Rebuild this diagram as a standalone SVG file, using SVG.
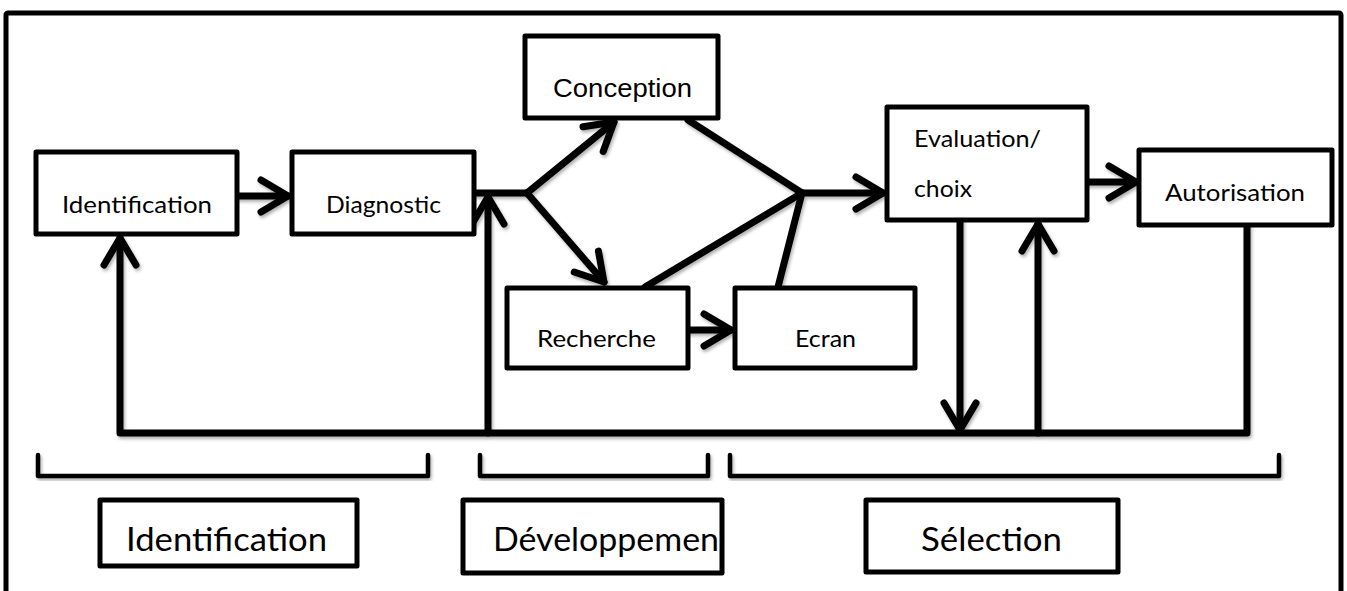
<svg xmlns="http://www.w3.org/2000/svg" width="1347" height="591" viewBox="0 0 1347 591">
  <style>
    .box { fill: #fff; stroke: #000; stroke-width: 5; stroke-linejoin: round; }
    .wire { fill: none; stroke: #000; stroke-width: 7; stroke-linecap: round; stroke-linejoin: round; }
    .brace { fill: none; stroke: #000; stroke-width: 4.5; stroke-linecap: round; stroke-linejoin: round; }
    .lbl { font-family: Lato, "Open Sans", sans-serif; font-size: 24px; fill: #000; }
    .big { font-family: Lato, "Open Sans", sans-serif; font-size: 33px; fill: #000; }
    .arial { font-family: "Liberation Sans", Arial, sans-serif; font-size: 25px; fill: #000; }
    .shade { filter: url(#shadow); }
  </style>
  <defs>
    <filter id="shadow" x="-10%" y="-10%" width="120%" height="130%">
      <feDropShadow dx="1.5" dy="2.5" stdDeviation="1.5" flood-color="#000" flood-opacity="0.3"/>
    </filter>
    <marker id="head" markerUnits="userSpaceOnUse" viewBox="-34 -22 40 44" markerWidth="40" markerHeight="44" refX="0" refY="0" orient="auto" overflow="visible">
      <path d="M -27 -16 L 0 0 L -27 16" fill="none" stroke="#000" stroke-width="7" stroke-linecap="round" stroke-linejoin="round"/>
    </marker>
  </defs>

  <rect width="1347" height="591" fill="#fff"/>

  <!-- outer frame -->
  <rect x="6" y="13" width="1335" height="620" fill="none" stroke="#000" stroke-width="5" rx="2"/>

  <!-- connectors -->
  <g id="connectors" class="shade">
    <line class="wire" x1="238" y1="196" x2="288" y2="196" marker-end="url(#head)"/>
    <polyline class="wire" points="474,193 527,193"/>
    <line class="wire" x1="527" y1="193" x2="614" y2="122" marker-end="url(#head)"/>
    <line class="wire" x1="527" y1="193" x2="604" y2="282" marker-end="url(#head)"/>
    <line class="wire" x1="688" y1="120" x2="802" y2="193"/>
    <line class="wire" x1="645" y1="287" x2="802" y2="193"/>
    <line class="wire" x1="778" y1="287" x2="802" y2="193"/>
    <line class="wire" x1="802" y1="193" x2="883" y2="193" marker-end="url(#head)"/>
    <line class="wire" x1="688" y1="330" x2="731" y2="330" marker-end="url(#head)"/>
    <line class="wire" x1="1088" y1="182" x2="1136" y2="182" marker-end="url(#head)"/>
    <line class="wire" x1="960" y1="221" x2="960" y2="430" marker-end="url(#head)"/>
    <line class="wire" x1="1038" y1="433" x2="1038" y2="224" marker-end="url(#head)"/>
    <polyline class="wire" points="1247,226 1247,433 120,433 120,238" marker-end="url(#head)"/>
    <line class="wire" x1="488" y1="433" x2="488" y2="197" marker-end="url(#head)"/>
  </g>

  <!-- phase braces -->
  <g id="braces" class="shade">
    <polyline class="brace" points="38,455 38,476 428,476 428,455"/>
    <polyline class="brace" points="480,455 480,476 708,476 708,455"/>
    <polyline class="brace" points="730,455 730,476 1279,476 1279,455"/>
  </g>

  <!-- process steps -->
  <g id="identification">
    <rect class="box" x="36" y="152" width="201" height="82"/>
    <text class="lbl" x="62" y="213" textLength="150" lengthAdjust="spacingAndGlyphs">Identification</text>
  </g>
  <g id="diagnostic">
    <rect class="box" x="292" y="152" width="182" height="82"/>
    <text class="lbl" x="326" y="213" textLength="115" lengthAdjust="spacingAndGlyphs">Diagnostic</text>
  </g>
  <g id="conception">
    <rect class="box" x="525" y="36" width="193" height="82"/>
    <text class="arial" x="553" y="97" textLength="139" lengthAdjust="spacingAndGlyphs">Conception</text>
  </g>
  <g id="recherche">
    <rect class="box" x="507" y="288" width="181" height="80"/>
    <text class="lbl" x="537" y="347" textLength="119" lengthAdjust="spacingAndGlyphs">Recherche</text>
  </g>
  <g id="ecran">
    <rect class="box" x="735" y="288" width="180" height="80"/>
    <text class="lbl" x="795" y="347" textLength="61" lengthAdjust="spacingAndGlyphs">Ecran</text>
  </g>
  <g id="evaluation">
    <rect class="box" x="887" y="107" width="200" height="113"/>
    <text class="lbl" x="914" y="147" textLength="127" lengthAdjust="spacingAndGlyphs">Evaluation/</text>
    <text class="lbl" x="914" y="197" textLength="58" lengthAdjust="spacingAndGlyphs">choix</text>
  </g>
  <g id="autorisation">
    <rect class="box" x="1139" y="150" width="193" height="75"/>
    <text class="lbl" x="1165" y="201" textLength="140" lengthAdjust="spacingAndGlyphs">Autorisation</text>
  </g>

  <!-- phase labels -->
  <g id="phase-identification">
    <rect class="box" x="100" y="500" width="257" height="66"/>
    <text class="big" x="126" y="551" textLength="201" lengthAdjust="spacingAndGlyphs">Identification</text>
  </g>
  <g id="phase-developpement">
    <rect class="box" x="463" y="500" width="259" height="73"/>
    <text class="big" x="493" y="551" textLength="226" lengthAdjust="spacingAndGlyphs">Développemen</text>
  </g>
  <g id="phase-selection">
    <rect class="box" x="866" y="500" width="252" height="72"/>
    <text class="big" x="921" y="551" textLength="141" lengthAdjust="spacingAndGlyphs">Sélection</text>
  </g>
</svg>
